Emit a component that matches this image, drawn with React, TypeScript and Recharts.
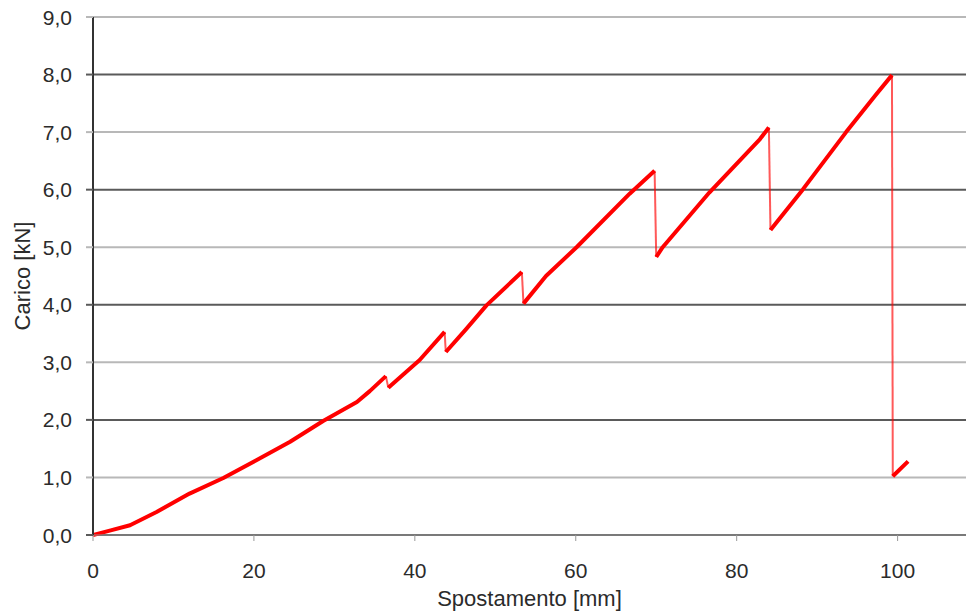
import React from 'react';
import { LineChart, Line, XAxis, YAxis, ReferenceLine } from 'recharts';

// displacement [mm] and load [kN]
const displacement = [
  0, 2.2, 4.6, 7.9, 12.0, 16.2, 20.3, 24.5, 28.6, 32.8, 34.4, 36.4,
  36.7, 40.6, 43.7,
  43.85, 46.4, 48.9, 53.3,
  53.5, 56.3, 60.1, 66.7, 69.8,
  70.0, 70.8, 76.6, 82.9, 84.0,
  84.2, 88.2, 93.6, 97.3, 99.3,
  99.4, 101.3,
];
const load = [
  0, 0.08, 0.17, 0.4, 0.72, 0.99, 1.3, 1.62, 1.98, 2.31, 2.5, 2.76,
  2.56, 3.04, 3.53,
  3.18, 3.58, 3.99, 4.57,
  4.02, 4.5, 5.0, 5.93, 6.33,
  4.83, 5.0, 5.95, 6.88, 7.08,
  5.3, 6.0, 7.0, 7.65, 7.99,
  1.02, 1.28,
];
// index of the last point before each sudden load drop
const dropStarts = [11, 14, 18, 23, 28, 33];

const xTicks = [0, 20, 40, 60, 80, 100];
const yTicks = [0, 1, 2, 3, 4, 5, 6, 7, 8, 9];

type Pt = { x: number; load: number | null };

const points: Pt[] = displacement.map((x, i) => ({ x, load: load[i] }));

// main curve, broken where the load drops
const curve: Pt[] = [];
points.forEach((p, i) => {
  curve.push(p);
  if (dropStarts.includes(i)) curve.push({ x: (p.x + points[i + 1].x) / 2, load: null });
});

const drops = dropStarts.map((i) => [points[i], points[i + 1]]);

const FONT = '"Liberation Sans", Arial, sans-serif';
const gridColor = (v: number) => (v % 2 === 0 ? '#5a5a5a' : '#b8b8b8');
const fmt = (v: number) => v.toFixed(1).replace('.', ',');

const YTick = (props: any) => {
  const { x, y, payload } = props;
  return (
    <g>
      <line x1={x + 14} x2={x + 21} y1={y} y2={y} stroke={gridColor(payload.value)} strokeWidth={2} />
      <text x={x} y={y} dy="0.36em" textAnchor="end" fill="#2b2b2b" fontSize={21} fontFamily={FONT}>
        {fmt(payload.value)}
      </text>
    </g>
  );
};

const YLabel = (props: any) => {
  const { viewBox } = props;
  const cx = viewBox.x + 22;
  const cy = viewBox.y + viewBox.height / 2;
  return (
    <text
      x={cx}
      y={cy}
      transform={`rotate(-90 ${cx} ${cy})`}
      textAnchor="middle"
      dominantBaseline="central"
      fill="#2b2b2b"
      fontSize={22}
      fontFamily={FONT}
    >
      Carico [kN]
    </text>
  );
};

const App = () => {
  return (
    <div style={{ position: 'absolute', left: 0, top: 0, background: '#fff' }}>
      <LineChart width={966} height={615} margin={{ top: 17, right: 0, left: 0, bottom: 0 }}>
        {yTicks.map((v) => (
          <ReferenceLine key={v} y={v} stroke={gridColor(v)} strokeWidth={2} />
        ))}
        <XAxis
          type="number"
          dataKey="x"
          domain={[0, 108.5]}
          ticks={xTicks}
          allowDataOverflow
          height={80}
          stroke="#999"
          tickSize={6}
          tickMargin={22}
          tick={{ fill: '#2b2b2b', fontSize: 21, fontFamily: FONT }}
          label={{ value: 'Spostamento [mm]', position: 'insideBottom', offset: 9, fill: '#2b2b2b', fontSize: 22, fontFamily: FONT }}
        />
        <YAxis
          type="number"
          domain={[0, 9]}
          ticks={yTicks}
          width={93}
          axisLine={{ stroke: '#333', strokeWidth: 2 }}
          tickLine={false}
          tickSize={7}
          tickMargin={14}
          tick={<YTick />}
          label={{ content: <YLabel /> }}
        />
        <Line
          data={curve}
          dataKey="load"
          type="linear"
          stroke="#ff0000"
          strokeWidth={4}
          strokeLinejoin="round"
          dot={false}
          connectNulls={false}
          isAnimationActive={false}
        />
        {drops.map((seg, i) => (
          <Line
            key={i}
            data={seg}
            dataKey="load"
            type="linear"
            stroke="#ff0000"
            strokeOpacity={0.65}
            strokeWidth={2}
            dot={false}
            isAnimationActive={false}
          />
        ))}
      </LineChart>
    </div>
  );
};

export default App;
